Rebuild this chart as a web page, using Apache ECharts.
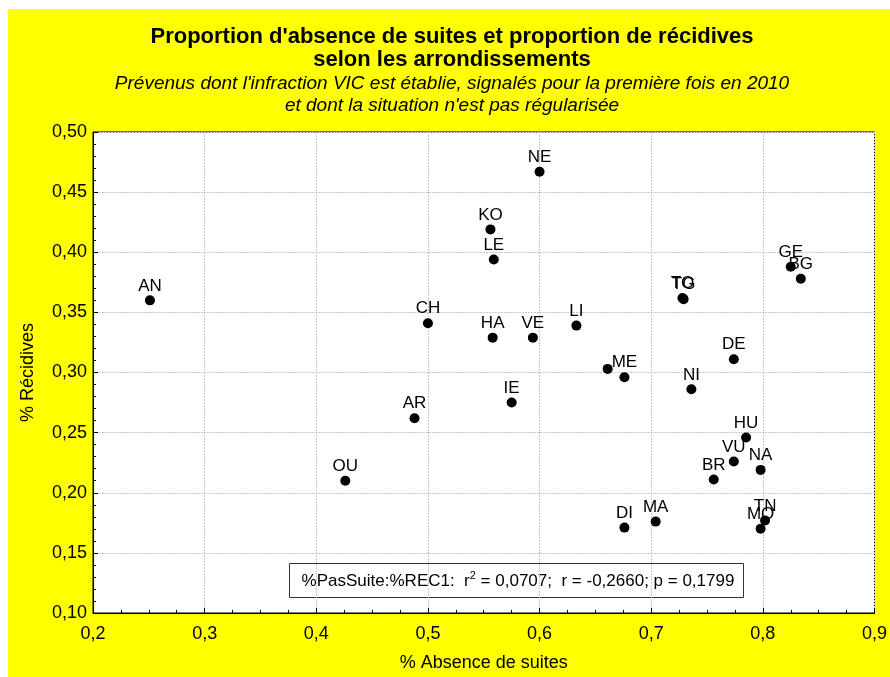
<!DOCTYPE html>
<html>
<head>
<meta charset="utf-8">
<script src="https://cdn.jsdelivr.net/npm/echarts@6/dist/echarts.min.js"></script>
<style>html,body{margin:0;padding:0;background:#fff;}#c{width:890px;height:677px;}</style>
</head>
<body>
<div id="c"></div>
<script>
var labels = ['AN','OU','AR','CH','KO','LE','HA','NE','VE','IE','LI','','ME','TO','TG','GE','BG','DE','NI','HU','VU','NA','BR','TN','MO','DI','MA'];
var absence = [0.251,0.426,0.488,0.500,0.556,0.559,0.558,0.600,0.594,0.575,0.633,0.661,0.676,0.728,0.729,0.825,0.834,0.774,0.736,0.785,0.774,0.798,0.756,0.802,0.798,0.676,0.704];
var recidives = [0.360,0.210,0.262,0.341,0.419,0.394,0.329,0.467,0.329,0.275,0.339,0.303,0.296,0.362,0.361,0.388,0.378,0.311,0.286,0.246,0.226,0.219,0.211,0.177,0.170,0.171,0.176];
var xTicks = [0.2,0.3,0.4,0.5,0.6,0.7,0.8,0.9];
var yTicks = [0.10,0.15,0.20,0.25,0.30,0.35,0.40,0.45,0.50];

var F = '"Liberation Sans", Arial, sans-serif';
var pts = absence.map(function(v,i){ return {value:[v, recidives[i]], name:labels[i]}; });

var chart = echarts.init(document.getElementById('c'), null, {renderer:'canvas'});
chart.setOption({
  animation:false,
  backgroundColor:'#fff',
  textStyle:{fontFamily:F},
  graphic:[
    {type:'rect', z:-10, shape:{x:8,y:9,width:882,height:668}, style:{fill:'#ffff00'}},
    {type:'text', x:452, y:26, style:{text:"Proportion d'absence de suites et proportion de récidives", font:'bold 22px '+F, fill:'#000', textAlign:'center'}},
    {type:'text', x:452, y:49, style:{text:"selon les arrondissements", font:'bold 22px '+F, fill:'#000', textAlign:'center'}},
    {type:'text', x:452, y:74, style:{text:"Prévenus dont l'infraction VIC est établie, signalés pour la première fois en 2010", font:'italic 19px '+F, fill:'#000', textAlign:'center'}},
    {type:'text', x:452, y:96, style:{text:"et dont la situation n'est pas régularisée", font:'italic 19px '+F, fill:'#000', textAlign:'center'}},
    {type:'group', z:100, children:[
      {type:'rect', shape:{x:289.5,y:563.5,width:454,height:34}, style:{fill:'#fff', stroke:'#333', lineWidth:1}},
      {type:'text', x:518, y:580, style:{
        text:'{a|%PasSuite:%REC1:  r}{s|2}{a| = 0,0707;  r = -0,2660; p = 0,1799}',
        textAlign:'center', textVerticalAlign:'middle',
        rich:{a:{fontSize:17, fontFamily:F, color:'#000', lineHeight:20, verticalAlign:'bottom'},
              s:{fontSize:11, fontFamily:F, color:'#000', lineHeight:20, verticalAlign:'top'}}
      }}
    ]}
  ],
  grid:{left:93, right:11, top:132, bottom:64, show:true, backgroundColor:'#fff', borderColor:'#000', borderWidth:1},
  xAxis:{
    type:'value', min:0.2, max:0.9, interval:0.1,
    name:'% Absence de suites', nameLocation:'middle', nameGap:41,
    nameTextStyle:{fontSize:18, color:'#000', fontFamily:F},
    axisLine:{show:true, lineStyle:{color:'#000', width:1}},
    axisTick:{show:true, inside:true, length:5, lineStyle:{color:'#000'}},
    minorTick:{show:true, splitNumber:4, length:3, lineStyle:{color:'#000'}},
    axisLabel:{fontSize:18, color:'#000', margin:12, formatter:function(v){ var r=Math.round(v*10)/10; return xTicks.indexOf(r)>=0 ? r.toFixed(1).replace('.',',') : ''; }},
    splitLine:{show:true, lineStyle:{color:'#c8c8c8', type:[2,1], width:1}}
  },
  yAxis:{
    type:'value', min:0.1, max:0.5, interval:0.05,
    name:'% Récidives', nameLocation:'middle', nameGap:56, nameRotate:90,
    nameTextStyle:{fontSize:18, color:'#000', fontFamily:F},
    axisLine:{show:true, lineStyle:{color:'#000', width:1}},
    axisTick:{show:true, inside:true, length:5, lineStyle:{color:'#000'}},
    minorTick:{show:true, splitNumber:5, length:3, lineStyle:{color:'#000'}},
    axisLabel:{fontSize:18, color:'#000', margin:6, formatter:function(v){ return (Math.round(v*100)/100).toFixed(2).replace('.',','); }},
    splitLine:{show:true, lineStyle:{color:'#c8c8c8', type:[2,1], width:1}}
  },
  series:[{
    type:'scatter', symbol:'circle', symbolSize:10,
    itemStyle:{color:'#000', opacity:1},
    data:pts,
    label:{show:true, position:'top', distance:1, formatter:'{b}', fontSize:17, color:'#000', opacity:1, fontFamily:F}
  }]
});
</script>
</body>
</html>
